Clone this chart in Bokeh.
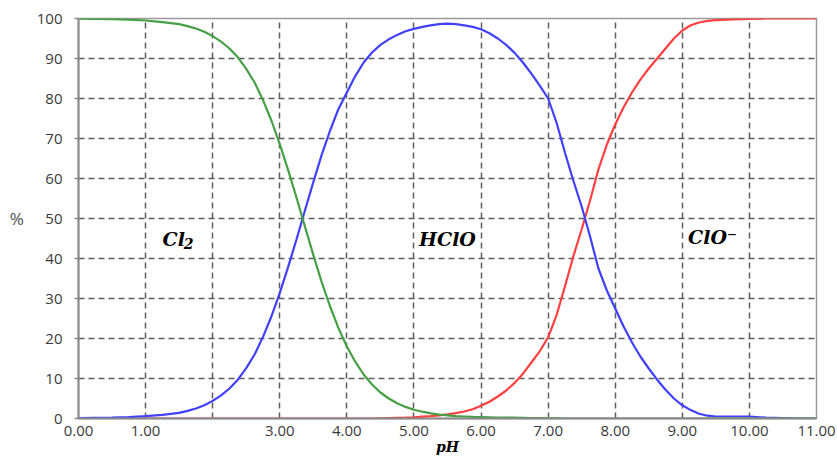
from bokeh.plotting import figure
from bokeh.models import FixedTicker, Label, ColumnDataSource
from bokeh.embed import file_html
from bokeh.resources import INLINE

# ---- data (percent of each species vs pH) ----
ph = [0, 0.25, 0.5, 0.75, 1, 1.25, 1.5, 1.625, 1.75, 1.875,
      2, 2.125, 2.25, 2.375, 2.5, 2.625, 2.75, 2.875,
      3, 3.125, 3.25, 3.375, 3.5, 3.625, 3.75, 3.875,
      4, 4.125, 4.25, 4.375, 4.5, 4.625, 4.75, 4.875,
      5, 5.125, 5.25, 5.375, 5.5, 5.625, 5.75, 5.875,
      6, 6.125, 6.25, 6.375, 6.5, 6.625, 6.75, 6.875,
      7, 7.125, 7.25, 7.375, 7.5, 7.625, 7.75, 7.875,
      8, 8.125, 8.25, 8.375, 8.5, 8.625, 8.75, 8.875,
      9, 9.125, 9.25, 9.375, 9.5, 9.75,
      10, 10.25, 10.5, 10.75, 11]

cl2 = [99.95, 99.9, 99.85, 99.7, 99.5, 99.1, 98.6, 98.1, 97.5, 96.7,
       95.6, 94.2, 92.5, 90.3, 87.4, 84.0, 79.6, 74.5,
       68.6, 62.1, 55.2, 48.0, 40.9, 34.1, 28.0, 22.6,
       18.0, 14.2, 11.0, 8.5, 6.5, 5.0, 3.8, 2.9,
       2.2, 1.7, 1.3, 1.0, 0.8, 0.6, 0.5, 0.4,
       0.35, 0.3, 0.25, 0.2, 0.2, 0.15, 0.1, 0.1,
       0.1, 0.05, 0, 0, 0, 0, 0, 0,
       0, 0, 0, 0, 0, 0, 0, 0,
       0, 0, 0, 0, 0, 0,
       0, 0, 0, 0, 0]

hclo = [0.1, 0.15, 0.2, 0.35, 0.6, 0.9, 1.4, 1.9, 2.5, 3.3,
        4.4, 5.8, 7.5, 9.7, 12.6, 16.0, 20.4, 25.5,
        31.4, 37.9, 44.8, 52.0, 59.1, 65.9, 72.0, 77.4,
        81.5, 85.6, 89.0, 91.5, 93.4, 94.8, 95.9, 96.8,
        97.4, 97.9, 98.3, 98.6, 98.7, 98.6, 98.3, 97.9,
        97.3, 96.3, 95.0, 93.4, 91.4, 89.0, 86.2, 83.2,
        80.0, 74.0, 66.5, 59.5, 53.0, 45.5, 37.5, 32.0,
        27.5, 23.0, 19.0, 15.5, 12.5, 9.7, 7.2, 5.0,
        3.3, 2.1, 1.2, 0.7, 0.5, 0.5,
        0.5, 0.2, 0.1, 0, 0]

clo = [0, 0, 0, 0, 0, 0, 0, 0, 0, 0,
       0, 0, 0, 0, 0, 0, 0, 0,
       0, 0, 0, 0, 0, 0, 0, 0,
       0, 0, 0, 0, 0.05, 0.1, 0.15, 0.2,
       0.3, 0.45, 0.6, 0.8, 1.05, 1.35, 1.75, 2.3,
       3.2, 4.2, 5.5, 7.0, 8.9, 11.2, 14.0, 16.8,
       20.3, 25.8, 33.0, 40.5, 47.3, 54.5, 62.3, 68.5,
       73.5, 77.8, 81.5, 84.7, 87.5, 90.0, 92.5, 95.0,
       97.0, 98.3, 99.0, 99.4, 99.6, 99.8,
       99.9, 100, 100, 100, 100]

x_ticks = [0, 1, 2, 3, 4, 5, 6, 7, 8, 9, 10, 11]
x_tick_labels = ["0.00", "1.00", "", "3.00", "4.00", "5.00", "6.00", "7.00",
                 "8.00", "9.00", "10.00", "11.00"]
y_ticks = [0, 10, 20, 30, 40, 50, 60, 70, 80, 90, 100]

src = ColumnDataSource(dict(ph=ph, cl2=cl2, hclo=hclo, clo=clo))

p = figure(width=837, height=457, x_range=(0, 11), y_range=(0, 100),
           output_backend="svg", toolbar_location=None,
           min_border_left=78, min_border_right=21, min_border_top=18,
           min_border_bottom=39)

p.background_fill_color = "white"
p.border_fill_color = "white"
p.outline_line_color = "#9a9a9a"
p.outline_line_width = 1.5

# grid
for g in (p.xgrid, p.ygrid):
    g.grid_line_color = "#5e5e5e"
    g.grid_line_dash = "6 4"
    g.grid_line_width = 1.5

# axes
p.xaxis.ticker = FixedTicker(ticks=x_ticks)
p.xaxis.major_label_overrides = dict(zip(x_ticks, x_tick_labels))
p.yaxis.ticker = FixedTicker(ticks=y_ticks)

for ax in (p.xaxis, p.yaxis):
    ax.axis_line_color = "#8a8a8a"
    ax.axis_line_width = 2
    ax.major_tick_line_color = "#8a8a8a"
    ax.major_tick_line_width = 1.5
    ax.minor_tick_line_color = None
    ax.major_label_text_font = "Open Sans"
    ax.major_label_text_font_size = "15px"
    ax.major_label_text_color = "#3a3a3a"

p.xaxis.major_tick_in = 0
p.xaxis.major_tick_out = 0
p.xaxis.major_label_standoff = 7
p.xaxis.axis_label = "pH"
p.xaxis.axis_label_text_font = "DejaVu Serif"
p.xaxis.axis_label_text_font_style = "bold italic"
p.xaxis.axis_label_text_font_size = "14px"
p.xaxis.axis_label_text_color = "black"
p.xaxis.axis_label_standoff = 0

p.yaxis.major_tick_in = 0
p.yaxis.major_tick_out = 4
p.yaxis.major_label_standoff = 12
p.yaxis.axis_label = "%"
p.yaxis.axis_label_orientation = "horizontal"
p.yaxis.axis_label_text_font = "Open Sans"
p.yaxis.axis_label_text_font_style = "normal"
p.yaxis.axis_label_text_font_size = "17px"
p.yaxis.axis_label_text_color = "#505050"
p.yaxis.axis_label_standoff = 10

# curves
p.line("ph", "clo", source=src, line_color="#ff4040", line_width=2.2)
p.line("ph", "hclo", source=src, line_color="#4040ff", line_width=2.2)
p.line("ph", "cl2", source=src, line_color="#45a045", line_width=2.2)

# species labels
lab_font = dict(text_font="DejaVu Serif", text_font_style="bold italic",
                text_color="black", text_baseline="middle")
p.add_layout(Label(x=1.42, y=45, text="Cl", text_align="center",
                   text_font_size="19px", **lab_font))
p.add_layout(Label(x=1.42, y=45, x_offset=10, y_offset=-5, text="2",
                   text_align="left", text_font_size="14px", **lab_font))
p.add_layout(Label(x=5.5, y=45, text="HClO", text_align="center",
                   text_font_size="19px", **lab_font))
p.add_layout(Label(x=9.45, y=45.4, text="ClO⁻", text_align="center",
                   text_font_size="19px", **lab_font))

open("out.html", "w").write(file_html(p, INLINE))
